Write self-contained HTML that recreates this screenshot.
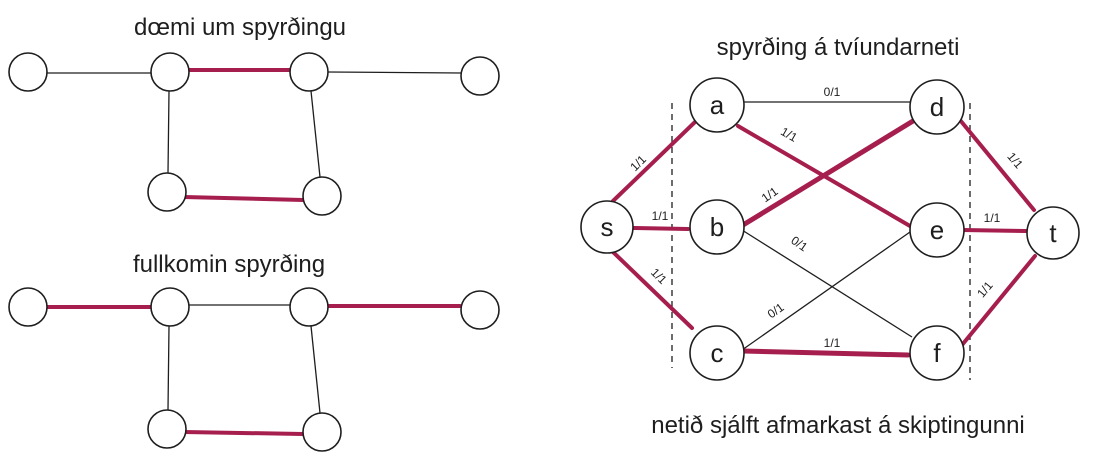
<!DOCTYPE html>
<html><head><meta charset="utf-8"><style>
html,body{margin:0;padding:0;background:#fff;}
svg{display:block}
text{font-family:"Liberation Sans",sans-serif;fill:#1e1e1e}
</style></head><body>
<svg width="1095" height="460" viewBox="0 0 1095 460" xmlns="http://www.w3.org/2000/svg">
<g stroke="#1e1e1e" stroke-width="1.3" fill="none">
<!-- left top -->
<line x1="47" y1="73" x2="151" y2="73"/>
<line x1="328" y1="72" x2="461" y2="73"/>
<line x1="169" y1="91" x2="168" y2="173"/>
<line x1="311" y1="91" x2="320" y2="177"/>
<!-- left bottom -->
<line x1="189" y1="305" x2="290" y2="305"/>
<line x1="169" y1="326" x2="168" y2="410"/>
<line x1="311" y1="326" x2="320" y2="413"/>
<!-- right -->
<line x1="744" y1="102" x2="910" y2="102"/>
<line x1="742" y1="230" x2="912" y2="337"/>
<line x1="742" y1="350" x2="910" y2="232"/>
<line x1="672" y1="103" x2="672" y2="368" stroke-dasharray="6 5"/>
<line x1="970" y1="103" x2="970" y2="380" stroke-dasharray="6 5"/>
</g>
<g stroke="#a61e4d" stroke-width="4" fill="none" stroke-linecap="round">
<line x1="190" y1="70" x2="290" y2="70"/>
<line x1="184" y1="197" x2="303" y2="200"/>
<line x1="46" y1="307" x2="151" y2="307"/>
<line x1="328" y1="306" x2="460" y2="306"/>
<line x1="184" y1="432" x2="303" y2="434"/>
<line x1="613" y1="201" x2="695" y2="122"/>
<line x1="633" y1="228" x2="688" y2="229"/>
<line x1="613" y1="252" x2="692" y2="328"/>
<line x1="738" y1="126" x2="910" y2="226"/>
<line x1="743" y1="225" x2="913" y2="121" stroke-width="5"/>
<line x1="743" y1="351" x2="908" y2="355" stroke-width="5"/>
<line x1="960" y1="120" x2="1034" y2="210"/>
<line x1="962" y1="230" x2="1026" y2="231"/>
<line x1="962" y1="345" x2="1035" y2="256"/>
</g>
<g stroke="#1e1e1e" stroke-width="1.6" fill="#fff">
<circle cx="28" cy="72" r="19"/><circle cx="170" cy="72" r="19"/><circle cx="309" cy="72" r="19"/><circle cx="480" cy="76" r="19"/>
<circle cx="167" cy="192" r="19"/><circle cx="322" cy="196" r="19"/>
<circle cx="28" cy="307" r="19"/><circle cx="170" cy="307" r="19"/><circle cx="309" cy="307" r="19"/><circle cx="480" cy="310" r="19"/>
<circle cx="167" cy="429" r="19"/><circle cx="322" cy="432" r="19"/>
<circle cx="717" cy="105" r="27"/><circle cx="937" cy="107" r="27"/>
<circle cx="607" cy="227" r="26"/><circle cx="717" cy="227" r="27"/><circle cx="937" cy="230" r="27"/><circle cx="1053" cy="233" r="26"/>
<circle cx="717" cy="353" r="27"/><circle cx="937" cy="353" r="27"/>
</g>
<g font-size="24" text-anchor="middle">
<text x="240" y="35">dœmi um spyrðingu</text>
<text x="229" y="272">fullkomin spyrðing</text>
<text x="838" y="55">spyrðing á tvíundarneti</text>
<text x="838" y="433">netið sjálft afmarkast á skiptingunni</text>
</g>
<g font-size="26" text-anchor="middle">
<text x="717" y="114">a</text><text x="937" y="116">d</text>
<text x="607" y="236">s</text><text x="717" y="236">b</text><text x="937" y="239">e</text><text x="1053" y="242">t</text>
<text x="717" y="362">c</text><text x="937" y="362">f</text>
</g>
<g font-size="12" text-anchor="middle">
<text x="832" y="96">0/1</text>
<text x="641" y="166" transform="rotate(-45 641 166)">1/1</text>
<text x="660" y="220">1/1</text>
<text x="656" y="279" transform="rotate(45 656 279)">1/1</text>
<text x="787" y="138" transform="rotate(30 787 138)">1/1</text>
<text x="772" y="198" transform="rotate(-35 772 198)">1/1</text>
<text x="797" y="247" transform="rotate(35 797 247)">0/1</text>
<text x="778" y="314" transform="rotate(-35 778 314)">0/1</text>
<text x="832" y="347">1/1</text>
<text x="1012" y="163" transform="rotate(50 1012 163)">1/1</text>
<text x="992" y="222">1/1</text>
<text x="988" y="292" transform="rotate(-50 988 292)">1/1</text>
</g>
</svg>
</body></html>
